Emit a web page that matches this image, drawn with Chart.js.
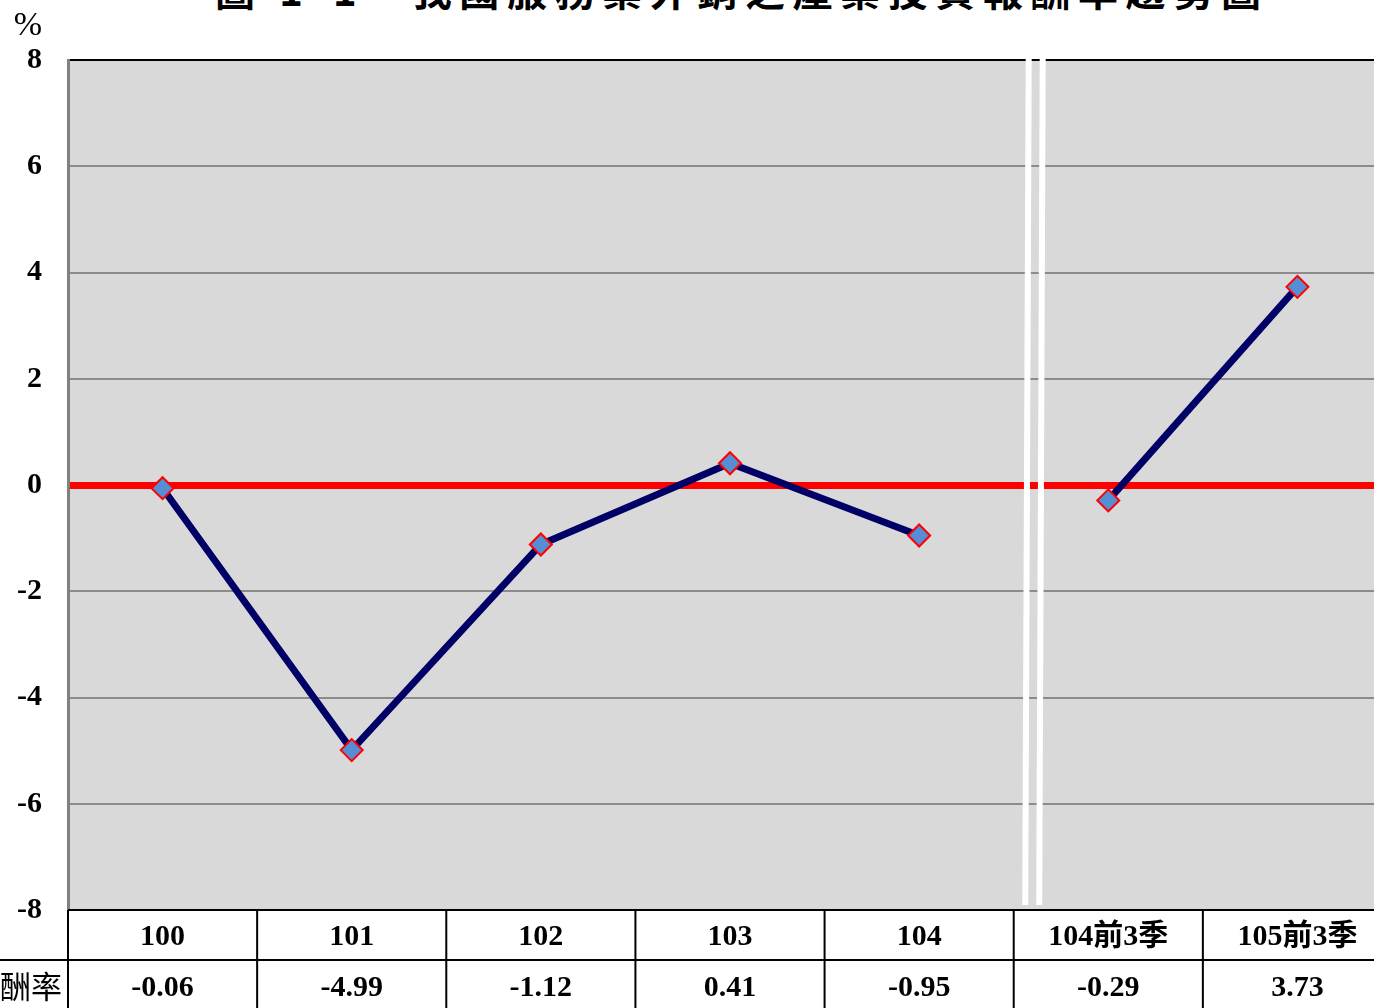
<!DOCTYPE html>
<html>
<head>
<meta charset="utf-8">
<script src="https://cdn.jsdelivr.net/npm/chart.js@4.4.1/dist/chart.umd.min.js"></script>
<style>
  html, body { margin: 0; padding: 0; background: #fff; overflow: hidden; width: 1374px; height: 1008px; }
  #wrap { position: absolute; left: 0; top: 0; width: 1405px; height: 1008px; }
  #title {
    position: absolute; left: 215px; top: -40px; width: 1100px; white-space: nowrap;
    font-family: "Noto Sans CJK TC", serif; font-weight: 700; font-size: 40px; letter-spacing: 7.6px;
    color: #000;
  }
</style>
</head>
<body>
<div id="title">圖 1-1　我國服務業外銷之產業投資報酬率趨勢圖</div>
<div id="wrap"><canvas id="c" width="1405" height="1008" style="width:1405px;height:1008px"></canvas></div>
<script>
// données
const categories = ["100", "101", "102", "103", "104", "104前3季", "105前3季"];
const rendement = [-0.06, -4.99, -1.12, 0.41, -0.95, -0.29, 3.73];
const yTicks = [-8, -6, -4, -2, 0, 2, 4, 6, 8];
const rowLabel = "投資報酬率";
const breakAfter = 4; // coupure entre "104" et "104前3季"

const serif = '"Liberation Serif", "Noto Sans CJK TC", serif';

// fond gris de la zone de tracé
const fondPlugin = {
  id: "fond",
  beforeDraw(chart) {
    const { ctx, chartArea: a } = chart;
    ctx.save();
    ctx.fillStyle = "#D9D9D9";
    ctx.fillRect(a.left, a.top, a.right - a.left, a.bottom - a.top);
    ctx.restore();
  }
};

// tableau de données sous le graphique + coupure + symbole %
const tablePlugin = {
  id: "table",
  afterDraw(chart) {
    const { ctx, chartArea: a } = chart;
    const x = chart.scales.x;
    const w = (a.right - a.left) / categories.length;
    const row1 = a.bottom, row2 = a.bottom + 50, row3 = a.bottom + 102;
    ctx.save();

    // double trait blanc de coupure
    const xb = (x.getPixelForValue(breakAfter) + x.getPixelForValue(breakAfter + 1)) / 2;
    ctx.strokeStyle = "#FFFFFF";
    ctx.lineWidth = 6;
    [[15, 11.5], [29, 25.5]].forEach(([t, b]) => {
      ctx.beginPath();
      ctx.moveTo(xb + t, a.top - 2);
      ctx.lineTo(xb + b, a.bottom - 5);
      ctx.stroke();
    });

    // lignes du tableau
    ctx.strokeStyle = "#000";
    ctx.lineWidth = 2;
    ctx.beginPath();
    ctx.moveTo(a.left, row1); ctx.lineTo(a.right, row1);
    ctx.moveTo(0, row2); ctx.lineTo(a.right, row2);
    ctx.moveTo(0, row3); ctx.lineTo(a.right, row3);
    for (let i = 0; i <= categories.length; i++) {
      const xx = a.left + i * w;
      ctx.moveTo(xx, row1); ctx.lineTo(xx, row3);
    }
    ctx.stroke();

    // textes
    ctx.fillStyle = "#000";
    ctx.textAlign = "center";
    ctx.textBaseline = "middle";
    ctx.font = "bold 30px " + serif;
    categories.forEach((c, i) => {
      ctx.fillText(c, x.getPixelForValue(i), row1 + 27);
    });
    rendement.forEach((v, i) => {
      ctx.fillText(v.toFixed(2), x.getPixelForValue(i), row2 + 28);
    });
    ctx.font = '31px "Noto Sans CJK TC", serif';
    ctx.textAlign = "right";
    ctx.fillText(rowLabel, a.left - 6, row2 + 26);

    // unité
    ctx.textAlign = "center";
    ctx.font = "34px " + serif;
    ctx.fillText("%", 28, 26);
    ctx.restore();
  }
};

new Chart(document.getElementById("c"), {
  type: "line",
  data: {
    labels: categories,
    datasets: [{
      data: rendement,
      borderColor: "#000066",
      borderWidth: 7,
      pointStyle: "rectRot",
      pointRadius: 11,
      pointHoverRadius: 11,
      pointBackgroundColor: "#558ED5",
      pointBorderColor: "#FF0000",
      pointBorderWidth: 2,
      tension: 0,
      segment: {
        borderColor: c => c.p0DataIndex === breakAfter ? "rgba(0,0,0,0)" : "#000066"
      }
    }]
  },
  options: {
    responsive: false,
    animation: false,
    layout: { padding: { top: 60, bottom: 98, right: 0, left: 0 } },
    plugins: {
      legend: { display: false },
      tooltip: { enabled: false },
      title: { display: false }
    },
    scales: {
      x: {
        type: "category",
        offset: true,
        display: false
      },
      y: {
        min: -8,
        max: 8,
        afterFit: s => { s.width = 68; },
        afterBuildTicks: s => { s.ticks = yTicks.map(v => ({ value: v })); },
        ticks: {
          padding: 26,
          color: "#000",
          font: { family: serif, size: 30, weight: "bold" }
        },
        grid: {
          drawTicks: false,
          color: c => c.tick.value === 0 ? "#FF0000" : (c.tick.value === 8 || c.tick.value === -8 ? "#000" : "#8C8C8C"),
          lineWidth: c => c.tick.value === 0 ? 7 : 2
        },
        border: { color: "#808080", width: 3 }
      }
    }
  },
  plugins: [fondPlugin, tablePlugin]
});
</script>
</body>
</html>
